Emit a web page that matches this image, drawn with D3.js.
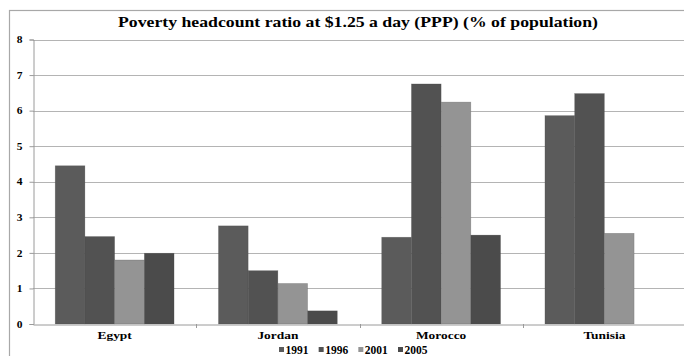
<!DOCTYPE html>
<html>
<head>
<meta charset="utf-8">
<script src="https://cdn.jsdelivr.net/npm/d3@7"></script>
<style>
  html, body { margin: 0; padding: 0; background: #fff; }
  svg { display: block; }
  svg text { font-family: "Liberation Serif", "Times New Roman", Times, serif; font-weight: 700; fill: #000; }
</style>
</head>
<body>
<svg id="chart" width="684" height="356"></svg>
<script>
const title = "Poverty headcount ratio at $1.25 a day (PPP) (% of population)";
const categories = ["Egypt", "Jordan", "Morocco", "Tunisia"];
const years = ["1991", "1996", "2001", "2005"];
const v1991 = [4.45, 2.76, 2.44, 5.86];
const v1996 = [2.46, 1.50, 6.75, 6.48];
const v2001 = [1.80, 1.14, 6.24, 2.55];
const v2005 = [1.99, 0.37, 2.50, null];
const yTicks = [0, 1, 2, 3, 4, 5, 6, 7, 8];
const colors = ["#5b5b5b", "#525252", "#949494", "#4b4b4b"];

const series = [v1991, v1996, v2001, v2005];

const svg = d3.select("#chart");
const plot = { left: 33, right: 686, top: 39.5, bottom: 324 };

// outer chart border (extends beyond the picture)
svg.append("rect")
  .attr("x", 9.5).attr("y", 10.5)
  .attr("width", 700).attr("height", 360)
  .attr("fill", "none").attr("stroke", "#a8a8a8").attr("stroke-width", 1.2);

const x0 = d3.scaleBand().domain(categories).range([plot.left, plot.right]).paddingInner(0).paddingOuter(0);
const padFrac = 0.136;
const x1 = d3.scaleBand().domain(years)
  .range([x0.bandwidth() * padFrac, x0.bandwidth() * (1 - padFrac)]).padding(0);
const y = d3.scaleLinear().domain([0, 8]).range([plot.bottom, plot.top]);

// gridlines
svg.append("g").selectAll("line").data(yTicks.filter(d => d > 0)).join("line")
  .attr("x1", plot.left).attr("x2", plot.right)
  .attr("y1", d => Math.round(y(d)) + 0.5).attr("y2", d => Math.round(y(d)) + 0.5)
  .attr("stroke", "#b4b4b4").attr("stroke-width", 1.2);

// y axis
const yAxis = d3.axisLeft(y).tickValues(yTicks).tickSize(4).tickPadding(9).tickFormat(d3.format("d"));
const gy = svg.append("g").attr("transform", `translate(${plot.left + 0.5},0)`).call(yAxis);
gy.attr("font-family", null).attr("font-size", null);
gy.select(".domain").attr("stroke", "#9a9a9a");
gy.selectAll(".tick line").attr("stroke", "#9a9a9a");
gy.selectAll(".tick text").style("font-size", "10px").attr("text-anchor", "middle").attr("x", -12)
  .attr("transform", "scale(1.15,1)");

// bars
const groups = svg.append("g").selectAll("g").data(categories).join("g")
  .attr("transform", d => `translate(${x0(d)},0)`);
groups.selectAll("rect")
  .data((c, ci) => years.map((yr, si) => ({ yr, si, v: series[si][ci] })).filter(d => d.v != null))
  .join("rect")
  .attr("x", d => x1(d.yr))
  .attr("width", x1.bandwidth())
  .attr("y", d => y(d.v))
  .attr("height", d => y(0) - y(d.v))
  .attr("fill", d => colors[d.si])
  .attr("stroke", "#444").attr("stroke-opacity", 0.35).attr("stroke-width", 0.6);

// x axis
const xAxis = d3.axisBottom(x0).tickSize(0).tickPadding(7);
const gx = svg.append("g").attr("transform", `translate(0,${plot.bottom + 0.5})`).call(xAxis);
gx.attr("font-family", null).attr("font-size", null);
gx.select(".domain").attr("stroke", "#9a9a9a");
gx.selectAll(".tick text").style("font-size", "11px").attr("transform", "scale(1.22,1)");
// separator ticks between categories
svg.append("g").selectAll("line").data(categories.slice(1)).join("line")
  .attr("x1", d => Math.round(x0(d)) + 0.5).attr("x2", d => Math.round(x0(d)) + 0.5)
  .attr("y1", plot.bottom).attr("y2", plot.bottom + 4)
  .attr("stroke", "#9a9a9a");

// title
svg.append("text")
  .attr("x", 358).attr("y", 27)
  .attr("text-anchor", "middle")
  .style("font-size", "15px")
  .attr("textLength", 480).attr("lengthAdjust", "spacingAndGlyphs")
  .text(title);

// legend
const legendX = d3.scalePoint().domain(years).range([279, 398]);
const lg = svg.append("g").selectAll("g").data(years).join("g")
  .attr("transform", d => `translate(${legendX(d)},350)`);
lg.append("rect").attr("x", 0).attr("y", -3).attr("width", 5).attr("height", 5)
  .attr("fill", (d, i) => colors[i]);
lg.append("text").attr("x", 6.5).attr("y", 4).style("font-size", "11.5px")
  .attr("textLength", 23).attr("lengthAdjust", "spacingAndGlyphs").text(d => d);
</script>
</body>
</html>
